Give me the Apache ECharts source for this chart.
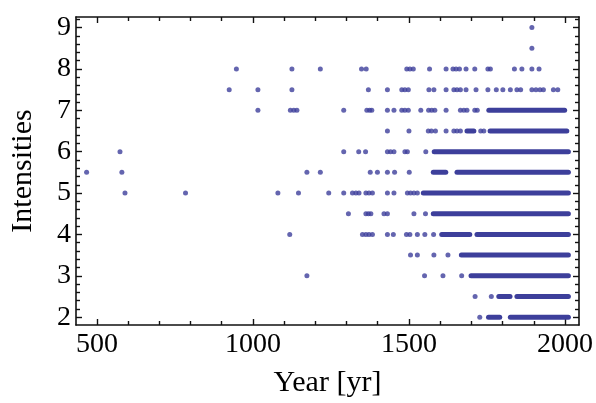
<!DOCTYPE html>
<html>
<head>
<meta charset="utf-8">
<script src="https://cdn.jsdelivr.net/npm/echarts@6/dist/echarts.min.js"></script>
<style>
  html, body { margin: 0; padding: 0; background: #fff; }
  #chart { width: 596px; height: 403px; }
</style>
</head>
<body>
<div id="chart"></div>
<script>
// ==============================
// data (years of single events per intensity level)
// ==============================
const dots9  = [1894];
const dots85 = [1894];
const dots8  = [947, 1125, 1216, 1348, 1363, 1493, 1503, 1514, 1566, 1619, 1641, 1651, 1662, 1683, 1711, 1753, 1761, 1838, 1862, 1894, 1917];
const dots75 = [924, 1016, 1125, 1370, 1431, 1477, 1487, 1498, 1564, 1580, 1619, 1644, 1654, 1665, 1683, 1715, 1753, 1780, 1801, 1825, 1846, 1858, 1894, 1907, 1920, 1931, 1963, 1977];
const dots7  = [1016, 1120, 1131, 1141, 1291, 1365, 1374, 1381, 1431, 1452, 1477, 1487, 1498, 1538, 1563, 1573, 1583, 1619, 1665, 1676, 1686, 1711, 1719];
const dots65 = [1431, 1500, 1562, 1572, 1585, 1619, 1644, 1654, 1665, 1730, 1740];
const dots6  = [574, 1291, 1339, 1361, 1431, 1441, 1452, 1487, 1495, 1554];
const dots55 = [467, 580, 1173, 1216, 1376, 1399, 1431, 1454, 1501];
const dots5  = [590, 784, 1080, 1146, 1243, 1291, 1319, 1330, 1340, 1362, 1372, 1383, 1431, 1452, 1495, 1505, 1516, 1527];
const dots45 = [1306, 1362, 1370, 1378, 1420, 1431, 1516, 1553];
const dots4  = [1118, 1351, 1362, 1372, 1383, 1431, 1450, 1492, 1503, 1527, 1551, 1579];
const dots35 = [1505, 1527, 1580, 1625];
const dots3  = [1173, 1550, 1609, 1669];
const dots25 = [1712, 1764];
const dots2  = [1727];

// yearly records so dense they merge into a solid row: [from, to, intensity]
const denseRuns = [
  [1756, 1999, 7],
  [1686, 1708, 6.5], [1760, 2006, 6.5],
  [1581, 2011, 6],
  [1578, 1618, 5.5], [1654, 2011, 5.5],
  [1546, 2011, 5],
  [1578, 2011, 4.5],
  [1605, 1695, 4], [1718, 2011, 4],
  [1668, 2011, 3.5],
  [1699, 2011, 3],
  [1788, 1824, 2.5], [1846, 2011, 2.5],
  [1755, 1791, 2], [1825, 2011, 2]
];

// ticks
const xMajorTicks = [500, 1000, 1500, 2000];
const xMinorTicks = [600, 700, 800, 900, 1100, 1200, 1300, 1400, 1600, 1700, 1800, 1900];
const yMajorTicks = [2, 3, 4, 5, 6, 7, 8, 9];
const yMinorTicks = [2.2, 2.4, 2.6, 2.8, 3.2, 3.4, 3.6, 3.8, 4.2, 4.4, 4.6, 4.8,
  5.2, 5.4, 5.6, 5.8, 6.2, 6.4, 6.6, 6.8, 7.2, 7.4, 7.6, 7.8, 8.2, 8.4, 8.6, 8.8, 9.2];

// ==============================
// chart
// ==============================
const dotColor = '#3d3f9b';
const serif = "'Liberation Serif', 'Times New Roman', serif";

const levelDots = [
  [9, dots9], [8.5, dots85], [8, dots8], [7.5, dots75], [7, dots7], [6.5, dots65],
  [6, dots6], [5.5, dots55], [5, dots5], [4.5, dots45], [4, dots4], [3.5, dots35],
  [3, dots3], [2.5, dots25], [2, dots2]
];
const scatterData = [];
levelDots.forEach(([lv, years]) => years.forEach(y => scatterData.push([y, lv])));

const X_MIN = 433, X_MAX = 2045;
const Y_MIN = 1.81, Y_MAX = 9.256;

function xAxisOf(pos, ticks, len, withLabels, withLine) {
  return {
    type: 'value', position: pos, min: X_MIN, max: X_MAX,
    axisLine: { show: withLine, onZero: false, lineStyle: { color: '#111', width: 1.6 } },
    axisTick: { show: true, inside: true, length: len, customValues: ticks,
      lineStyle: { color: '#111', width: 1.4 } },
    axisLabel: withLabels
      ? { show: true, customValues: ticks, margin: 6, color: '#000', fontSize: 28, fontFamily: serif,
          formatter: v => String(v) }
      : { show: false },
    splitLine: { show: false }
  };
}

function yAxisOf(pos, ticks, len, withLabels, withLine) {
  return {
    type: 'value', position: pos, min: Y_MIN, max: Y_MAX,
    axisLine: { show: withLine, onZero: false, lineStyle: { color: '#111', width: 1.6 } },
    axisTick: { show: true, inside: true, length: len, customValues: ticks,
      lineStyle: { color: '#111', width: 1.4 } },
    axisLabel: withLabels
      ? { show: true, customValues: ticks, margin: 5, color: '#000', fontSize: 28, fontFamily: serif }
      : { show: false },
    splitLine: { show: false }
  };
}

const xAxes = [
  xAxisOf('bottom', xMajorTicks, 6, true, true),
  xAxisOf('bottom', xMinorTicks, 4, false, false),
  xAxisOf('top', xMajorTicks, 6, false, true),
  xAxisOf('top', xMinorTicks, 4, false, false)
];
Object.assign(xAxes[0], {
  name: 'Year [yr]', nameLocation: 'middle', nameGap: 43,
  nameTextStyle: { color: '#000', fontSize: 30, fontFamily: serif }
});

const yAxes = [
  yAxisOf('left', yMajorTicks, 6, true, true),
  yAxisOf('left', yMinorTicks, 4, false, false),
  yAxisOf('right', yMajorTicks, 6, false, true),
  yAxisOf('right', yMinorTicks, 4, false, false)
];
Object.assign(yAxes[0], {
  name: 'Intensities', nameLocation: 'middle', nameGap: 38, nameRotate: 90,
  nameTextStyle: { color: '#000', fontSize: 30, fontFamily: serif }
});

const runSeries = denseRuns.map(([from, to, lv]) => ({
  type: 'line',
  xAxisIndex: 0, yAxisIndex: 0,
  data: [[from, lv], [to, lv]],
  symbol: 'none',
  silent: true,
  lineStyle: { color: dotColor, width: 5, cap: 'round' }
}));

const chart = echarts.init(document.getElementById('chart'));
chart.setOption({
  animation: false,
  grid: { left: 74, right: 17, top: 17, bottom: 75 },
  xAxis: xAxes,
  yAxis: yAxes,
  series: [
    {
      type: 'scatter',
      xAxisIndex: 0, yAxisIndex: 0,
      data: scatterData,
      symbol: 'circle',
      symbolSize: 5,
      itemStyle: { color: dotColor }
    },
    ...runSeries
  ]
});
</script>
</body>
</html>
